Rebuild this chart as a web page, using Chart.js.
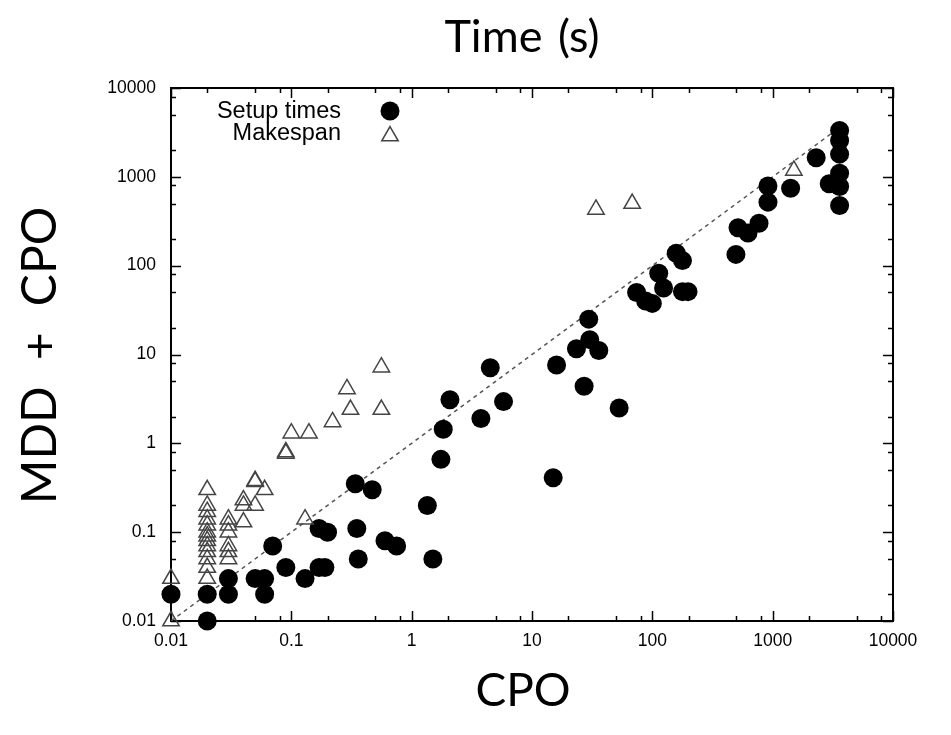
<!DOCTYPE html>
<html>
<head>
<meta charset="utf-8">
<title>Time (s)</title>
<script src="https://cdn.jsdelivr.net/npm/chart.js@4.4.0/dist/chart.umd.min.js"></script>
<style>
  html, body { margin: 0; padding: 0; background: #fff; }
  #wrap { width: 951px; height: 735px; }
</style>
</head>
<body>
<div id="wrap"><canvas id="timeChart" width="951" height="735"></canvas></div>
<script>
// Setup times (filled circles): CPO time on x, MDD + CPO time on y
const setupCpo = [0.01, 0.02, 0.02, 0.03, 0.03, 0.05, 0.06, 0.06, 0.07, 0.09,
  0.13, 0.17, 0.2, 0.17, 0.19, 0.34, 0.35, 0.36, 0.47, 0.6,
  0.75, 1.35, 1.5, 1.75, 1.83, 2.08, 3.76, 4.5, 5.8, 15,
  16, 23.4, 29.6, 30.2, 35.9, 27.1, 53, 74, 88, 100,
  113, 124, 158, 178, 178, 198, 495, 515, 624, 770,
  914, 914, 1410, 2300, 2950, 3600, 3600, 3600, 3600, 3600, 3600];
const setupMdd = [0.02, 0.02, 0.01, 0.03, 0.02, 0.03, 0.03, 0.02, 0.07, 0.04,
  0.03, 0.11, 0.1, 0.04, 0.04, 0.35, 0.11, 0.05, 0.3, 0.08,
  0.07, 0.2, 0.05, 0.66, 1.44, 3.1, 1.9, 7.1, 2.95, 0.41,
  7.6, 11.6, 25, 14.7, 11.1, 4.4, 2.5, 50, 40, 37.6,
  82, 56, 138, 114, 51, 51, 134, 267, 233, 300,
  790, 519, 745, 1640, 836, 3330, 2570, 1800, 1100, 780, 476];

// Makespan (open triangles)
const makespanCpo = [0.01, 0.01,
  0.02, 0.02, 0.02, 0.02, 0.02, 0.02, 0.02, 0.02, 0.02, 0.02, 0.02, 0.02, 0.02,
  0.03, 0.03, 0.03, 0.03, 0.03, 0.03,
  0.04, 0.04, 0.04, 0.05, 0.05, 0.05, 0.06,
  0.09, 0.09, 0.1, 0.14, 0.13, 0.22, 0.29, 0.31, 0.56, 0.56,
  34, 68, 1500];
const makespanMdd = [0.01, 0.03,
  0.3, 0.2, 0.17, 0.14, 0.12, 0.1, 0.09, 0.08, 0.07, 0.06, 0.05, 0.04, 0.03,
  0.14, 0.12, 0.1, 0.07, 0.06, 0.05,
  0.23, 0.2, 0.13, 0.38, 0.37, 0.2, 0.3,
  0.8, 0.77, 1.3, 1.3, 0.14, 1.74, 4.1, 2.4, 7.2, 2.4,
  430, 500, 1180];

// reference diagonal y = x
const diagonal = [0.01, 3100];

const majorTicks = [0.01, 0.1, 1, 10, 100, 1000, 10000];
const minorSteps = [2, 5, 8];
const minorTicks = [];
majorTicks.slice(0, -1).forEach(d => minorSteps.forEach(m => minorTicks.push(d * m)));

const toPoints = (xs, ys) => xs.map((x, i) => ({ x: x, y: ys[i] }));

// box around the plot with short inward ticks on all four sides
const frameTicks = {
  id: 'frameTicks',
  beforeDatasetsDraw(chart) {
    const { ctx, chartArea: a, scales: { x, y } } = chart;
    ctx.save();
    ctx.strokeStyle = '#000';
    ctx.lineWidth = 1.5;
    ctx.beginPath();
    const tick = (vals, len) => {
      vals.forEach(v => {
        const px = Math.round(x.getPixelForValue(v)) + 0.5;
        ctx.moveTo(px, a.bottom); ctx.lineTo(px, a.bottom - len);
        ctx.moveTo(px, a.top); ctx.lineTo(px, a.top + len);
        const py = Math.round(y.getPixelForValue(v)) + 0.5;
        ctx.moveTo(a.left, py); ctx.lineTo(a.left + len, py);
        ctx.moveTo(a.right, py); ctx.lineTo(a.right - len, py);
      });
    };
    tick(majorTicks, 10);
    tick(minorTicks, 5);
    ctx.stroke();
    ctx.lineWidth = 2;
    ctx.strokeRect(a.left, a.top, a.width, a.height);
    ctx.restore();
  }
};

// key in the top-left corner: text right aligned, symbol after it
const keyBox = {
  id: 'keyBox',
  afterDraw(chart) {
    const { ctx, chartArea: a } = chart;
    ctx.save();
    ctx.font = '23.5px "Liberation Sans", Arial, sans-serif';
    ctx.fillStyle = '#000';
    ctx.textAlign = 'right';
    ctx.textBaseline = 'middle';
    const rows = [chart.data.datasets[1], chart.data.datasets[0]];
    rows.forEach((ds, i) => {
      const cy = a.top + 24 + i * 22;
      ctx.fillText(ds.label, a.left + 170, cy);
      ctx.fillStyle = ds.backgroundColor;
      ctx.strokeStyle = ds.borderColor;
      ctx.lineWidth = ds.borderWidth;
      Chart.helpers.drawPoint(ctx, {
        pointStyle: ds.pointStyle, radius: ds.pointRadius, rotation: 0, borderWidth: ds.borderWidth
      }, a.left + 219, cy + (ds.pointStyle === 'triangle' ? 2 : -1));
      ctx.fillStyle = '#000';
    });
    ctx.restore();
  }
};

// big axis titles
const bigTitles = {
  id: 'bigTitles',
  afterDraw(chart) {
    const { ctx, chartArea: a } = chart;
    const cx = a.left + a.width / 2 - 10;
    ctx.save();
    ctx.fillStyle = '#000';
    ctx.textAlign = 'center';
    ctx.textBaseline = 'middle';
    ctx.font = '45px Lato, sans-serif';
    ctx.wordSpacing = '4px';
    ctx.fillText('Time (s)', cx, 37);
    ctx.font = '46px Lato, sans-serif';
    ctx.wordSpacing = '0px';
    ctx.fillText('CPO', cx + 1, 691);
    ctx.translate(41, a.top + a.height / 2 + 1);
    ctx.rotate(-Math.PI / 2);
    ctx.font = '48px Lato, sans-serif';
    ctx.wordSpacing = '14px';
    ctx.fillText('MDD + CPO', 0, 0);
    ctx.restore();
  }
};

const tickFont = { family: '"Liberation Sans", Arial, sans-serif', size: 17.5 };

const ctx = document.getElementById('timeChart').getContext('2d');
const timeChart = new Chart(ctx, {
  type: 'scatter',
  data: {
    datasets: [
      {
        label: 'Makespan',
        data: toPoints(makespanCpo, makespanMdd),
        pointStyle: 'triangle',
        pointRadius: 9.5,
        pointHoverRadius: 9.5,
        backgroundColor: 'rgba(255,255,255,0)',
        borderColor: '#444',
        borderWidth: 1.5,
        clip: false,
        order: 0
      },
      {
        label: 'Setup times',
        data: toPoints(setupCpo, setupMdd),
        pointStyle: 'circle',
        pointRadius: 9.5,
        pointHoverRadius: 9.5,
        backgroundColor: '#000',
        borderColor: '#000',
        borderWidth: 0,
        clip: false,
        order: 1
      },
      {
        label: 'y = x',
        type: 'line',
        data: toPoints(diagonal, diagonal),
        borderColor: '#555',
        borderDash: [4, 4],
        borderWidth: 1.5,
        pointRadius: 0,
        fill: false,
        order: 2
      }
    ]
  },
  options: {
    responsive: false,
    animation: false,
    events: [],
    layout: { padding: { top: 88, right: 58, left: 0, bottom: 0 } },
    plugins: {
      legend: { display: false },
      title: { display: false },
      tooltip: { enabled: false }
    },
    scales: {
      x: {
        type: 'logarithmic',
        min: 0.01,
        max: 10000,
        afterBuildTicks: s => { s.ticks = majorTicks.map(v => ({ value: v })); },
        afterFit: s => { s.height = 114; },
        grid: { display: false, drawTicks: false },
        border: { display: false },
        ticks: { padding: 10, color: '#000', font: tickFont, maxRotation: 0, autoSkip: false, callback: v => String(v) }
      },
      y: {
        type: 'logarithmic',
        min: 0.01,
        max: 10000,
        afterBuildTicks: s => { s.ticks = majorTicks.map(v => ({ value: v })); },
        afterFit: s => { s.width = 171; },
        grid: { display: false, drawTicks: false },
        border: { display: false },
        ticks: { padding: 15, color: '#000', font: tickFont, autoSkip: false, callback: v => String(v) }
      }
    }
  },
  plugins: [frameTicks, keyBox, bigTitles]
});
</script>
</body>
</html>
